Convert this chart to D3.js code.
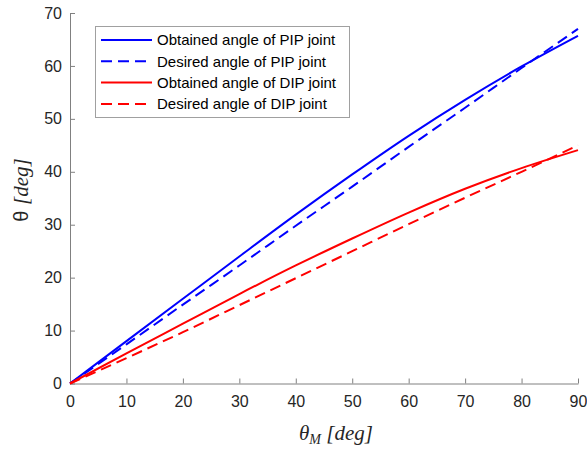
<!DOCTYPE html>
<html>
<head>
<meta charset="utf-8">
<script src="https://cdn.jsdelivr.net/npm/d3@7"></script>
<style>
  body { margin: 0; background: #fff; }
  svg { display: block; }
</style>
</head>
<body>
<svg id="chart" width="587" height="451"></svg>
<script>
// values
const xs = [0, 10, 20, 30, 40, 50, 60, 70, 80, 90]
const pipObtained = [0, 8.0, 16.0, 24.0, 31.9, 39.5, 46.8, 53.6, 59.9, 65.7]
const pipDesired = [0, 7.4, 14.9, 22.3, 29.8, 37.2, 44.7, 52.1, 59.6, 67.0]
const dipObtained = [0, 5.7, 11.3, 16.9, 22.3, 27.4, 32.3, 36.8, 40.7, 44.1]
const dipDesired = [0, 4.8, 9.7, 14.8, 19.9, 25.0, 30.1, 35.1, 40.0, 45.0]
const xTicks = [0, 10, 20, 30, 40, 50, 60, 70, 80, 90]
const yTicks = [0, 10, 20, 30, 40, 50, 60, 70]

const series = [
    { name: "Obtained angle of PIP joint", values: pipObtained, color: "#0000ff", dash: null },
    { name: "Desired angle of PIP joint", values: pipDesired, color: "#0000ff", dash: "11,6" },
    { name: "Obtained angle of DIP joint", values: dipObtained, color: "#ff0000", dash: null },
    { name: "Desired angle of DIP joint", values: dipDesired, color: "#ff0000", dash: "11,6" }
]

const svg = d3.select("#chart")
const axisColor = "#808080",
    textColor = "#262626"

let x = d3.scaleLinear().domain([0, 90]).range([70, 578])
let y = d3.scaleLinear().domain([0, 70]).range([383.5, 13])

// axes
let xAxis = svg.append("g")
    .attr("transform", "translate(0," + y(0) + ")")
    .call(d3.axisBottom(x).tickValues(xTicks).tickSizeInner(-5).tickSizeOuter(0).tickPadding(12))
let yAxis = svg.append("g")
    .attr("transform", "translate(" + x(0) + ",0)")
    .call(d3.axisLeft(y).tickValues(yTicks).tickSizeInner(-5).tickSizeOuter(0).tickPadding(8))

;[xAxis, yAxis].forEach(g => {
    g.select(".domain").attr("stroke", axisColor)
    g.selectAll(".tick line").attr("stroke", axisColor)
    g.selectAll(".tick text")
        .attr("fill", textColor)
        .style("font-family", "Arial, 'Liberation Sans', sans-serif")
        .style("font-size", "16px")
})

// curves
let line = d3.line()
    .x((d, i) => x(xs[i]))
    .y(d => y(d))
    .curve(d3.curveMonotoneX)

svg.append("g").selectAll("path")
    .data(series)
    .enter().append("path")
    .attr("d", d => line(d.values))
    .attr("fill", "none")
    .attr("stroke", d => d.color)
    .attr("stroke-width", 2)
    .attr("stroke-dasharray", d => d.dash)

// legend
let legend = svg.append("g")
legend.append("rect")
    .attr("x", 95.5).attr("y", 26.5)
    .attr("width", 254).attr("height", 91)
    .attr("fill", "#fff")
    .attr("stroke", "#a0a0a0")

let rows = legend.selectAll(".row")
    .data(series)
    .enter().append("g")
    .attr("class", "row")
    .attr("transform", (d, i) => "translate(0," + (40 + i * 21.3) + ")")
rows.append("line")
    .attr("x1", 101).attr("x2", 152)
    .attr("stroke", d => d.color)
    .attr("stroke-width", 2)
    .attr("stroke-dasharray", d => d.dash)
rows.append("text")
    .attr("x", 157).attr("dy", "0.35em")
    .attr("fill", "#000")
    .style("font-family", "Arial, 'Liberation Sans', sans-serif")
    .style("font-size", "15px")
    .text(d => d.name)

// axis labels
let xLabel = svg.append("text")
    .attr("x", 336).attr("y", 440)
    .attr("text-anchor", "middle")
    .attr("fill", textColor)
    .style("font-family", "'Liberation Serif', 'DejaVu Serif', serif")
    .style("font-style", "italic")
    .style("font-size", "21px")
xLabel.append("tspan").text("θ")
xLabel.append("tspan").attr("dy", 4).style("font-size", "14px").text("M")
xLabel.append("tspan").attr("dy", -4).text(" [deg]")

let yLabel = svg.append("text")
    .attr("transform", "translate(28,190) rotate(-90)")
    .attr("text-anchor", "middle")
    .attr("fill", textColor)
    .style("font-size", "20px")
yLabel.append("tspan")
    .style("font-family", "Arial, 'Liberation Sans', sans-serif")
    .text("θ ")
yLabel.append("tspan")
    .style("font-family", "'Liberation Serif', 'DejaVu Serif', serif")
    .style("font-style", "italic")
    .style("font-size", "21px")
    .text("[deg]")
</script>
</body>
</html>
